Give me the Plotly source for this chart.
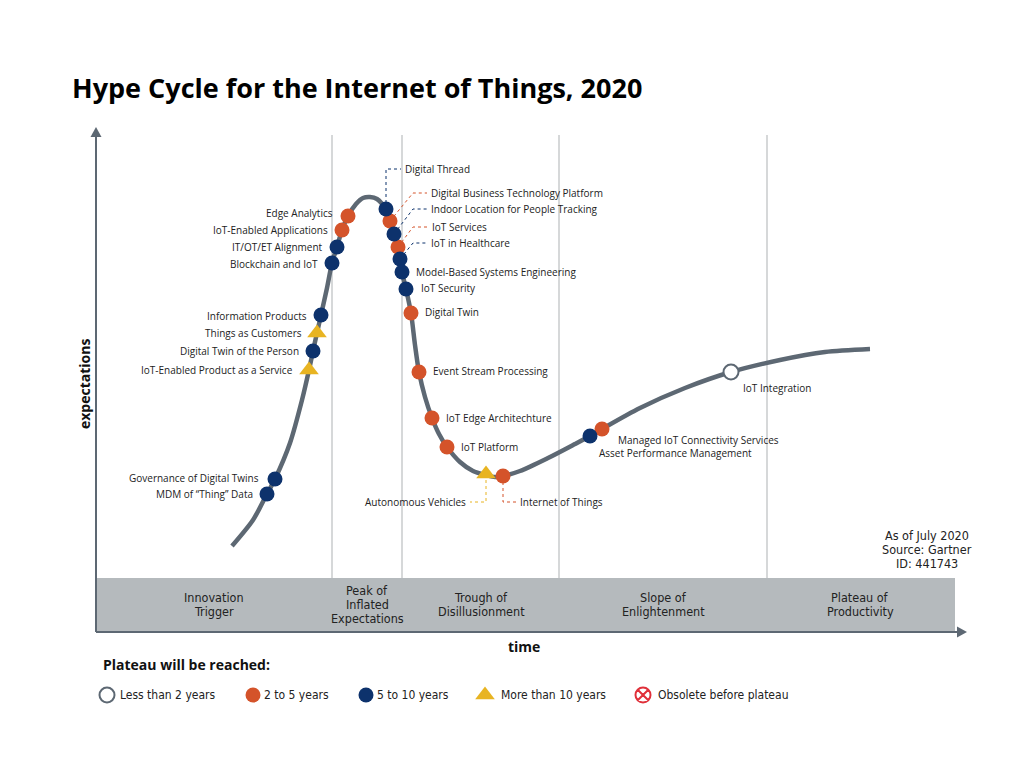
import plotly.graph_objects as go

# ---------------- data (time, expectations units) ----------------
curve_time = [136, 157, 171, 179, 194, 206, 213, 217, 221, 225, 231, 236, 241, 246, 252,
              260, 267, 274, 281, 290, 294, 298, 302, 304, 306, 310, 315, 319, 323, 329,
              336, 343, 351, 364, 377, 390, 399, 407, 424, 452, 479, 494, 506, 544, 589,
              635, 684, 729, 774]
curve_expect = [86, 112, 138, 153, 189, 232, 262, 281, 299, 317, 344, 369, 385, 402, 416,
                428, 434, 435, 433, 423, 411, 398, 385, 373, 360, 343, 319, 287, 260, 235,
                214, 198, 185, 170, 161, 157, 155, 156, 161, 174, 188, 196, 203, 224, 244,
                260, 272, 280, 283]

tech_names = ['MDM of “Thing” Data', 'Governance of Digital Twins',
              'IoT-Enabled Product as a Service', 'Digital Twin of the Person',
              'Things as Customers', 'Information Products', 'Blockchain and IoT',
              'IT/OT/ET Alignment', 'IoT-Enabled Applications', 'Edge Analytics',
              'Digital Thread', 'Digital Business Technology Platform',
              'Indoor Location for People Tracking', 'IoT Services', 'IoT in Healthcare',
              'Model-Based Systems Engineering', 'IoT Security', 'Digital Twin',
              'Event Stream Processing', 'IoT Edge Architechture', 'IoT Platform',
              'Autonomous Vehicles', 'Internet of Things',
              'Managed IoT Connectivity Services', 'Asset Performance Management',
              'IoT Integration']
tech_time = [171, 179, 213, 217, 221, 225, 236, 241, 246, 252,
             290, 294, 298, 302, 304, 306, 310, 315, 323, 336, 351,
             390, 407, 494, 506, 635]
tech_expect = [138, 153, 262, 281, 299, 317, 369, 385, 402, 416,
               423, 411, 398, 385, 373, 360, 343, 319, 260, 214, 185,
               158, 156, 196, 203, 260]
tech_class = ['5to10', '5to10', 'gt10', '5to10', 'gt10', '5to10', '5to10', '5to10', '2to5', '2to5',
              '5to10', '2to5', '5to10', '2to5', '5to10', '5to10', '5to10', '2to5', '2to5', '2to5', '2to5',
              'gt10', '2to5', '5to10', '2to5', 'lt2']
label_time = [159, 165, 199, 205, 208, 213, 224, 229, 234, 239,
              307, 333, 333, 334, 333, 318, 323, 327, 335, 348, 363,
              372, 422, 520, 501, 645]
label_expect = [138, 154, 262, 281, 299, 316, 368, 385, 402, 419,
                463, 439, 423, 405, 389, 360, 344, 320, 261, 214, 185,
                130, 130, 192, 179, 244]
label_side = ['l', 'l', 'l', 'l', 'l', 'l', 'l', 'l', 'l', 'l',
              'r', 'r', 'r', 'r', 'r', 'r', 'r', 'r', 'r', 'r', 'r',
              'l', 'r', 'r', 'r', 'r']
leader_elbow = [None] * 10 + [290, 317, 317, 317, 317] + [None] * 6 + [390, 407, None, None, None]

phase_names = [['Innovation', 'Trigger'], ['Peak of', 'Inflated', 'Expectations'],
               ['Trough of', 'Disillusionment'], ['Slope of', 'Enlightenment'],
               ['Plateau of', 'Productivity']]
phase_centers = [118, 271, 385, 567, 764]
phase_bounds = [236, 306, 463, 671]

source_lines = ['As of July 2020', 'Source: Gartner', 'ID: 441743']

legend_labels = ['Less than 2 years', '2 to 5 years', '5 to 10 years',
                 'More than 10 years', 'Obsolete before plateau']
legend_keys = ['lt2', '2to5', '5to10', 'gt10', 'obs']
legend_marker_x = [11, 157, 270, 389, 547]
legend_text_x = [22, 166, 279, 403, 560]

# ---------------- styles ----------------
NAVY = '#0d326c'
ORANGE = '#d4532a'
YELLOW = '#e8b422'
CURVE = '#5d6873'
BAND = '#b5babd'
GRID = '#c9cbcd'
TXT = '#222222'
LABEL_FONT = 'Open Sans, Noto Sans, sans-serif'
NARROW_FONT = 'Liberation Sans Narrow, DejaVu Sans Condensed, Open Sans, sans-serif'
LINE_STEP = 14

style = {
    'lt2': dict(symbol='circle', size=15, color='white', line=dict(color=CURVE, width=2)),
    '2to5': dict(symbol='circle', size=15, color=ORANGE, line=dict(width=0)),
    '5to10': dict(symbol='circle', size=15, color=NAVY, line=dict(width=0)),
    'gt10': dict(symbol='triangle-up', size=17, color=YELLOW, line=dict(width=0)),
    'obs': dict(symbol='circle-x-open', size=15, color='#e0303a', line=dict(color='#e0303a', width=2)),
}
leader_color = {'lt2': CURVE, '2to5': ORANGE, '5to10': NAVY, 'gt10': YELLOW}

fig = go.Figure()

# phase boundaries
for b in phase_bounds:
    fig.add_shape(type='line', x0=b, x1=b, y0=54, y1=497, line=dict(color=GRID, width=1.5), layer='below')

# phase band
fig.add_shape(type='rect', x0=0, x1=859, y0=1, y1=54, fillcolor=BAND, line=dict(width=0), layer='below')

# axes with arrows
fig.add_shape(type='line', x0=0, x1=0, y0=0, y1=497, line=dict(color=CURVE, width=2))
fig.add_shape(type='path', path='M -5.5 495 L 0 505 L 5.5 495 Z', fillcolor=CURVE, line=dict(width=0))
fig.add_shape(type='line', x0=0, x1=862, y0=0, y1=0, line=dict(color=CURVE, width=2))
fig.add_shape(type='path', path='M 861 5.5 L 871 0 L 861 -5.5 Z', fillcolor=CURVE, line=dict(width=0))

# leaders
for cls in ['2to5', '5to10', 'gt10']:
    lx, ly = [], []
    for i in range(len(tech_names)):
        if leader_elbow[i] is None or tech_class[i] != cls:
            continue
        end = label_time[i] - 2 if label_side[i] == 'r' else label_time[i] + 2
        lx += [tech_time[i], leader_elbow[i], end, None]
        ly += [tech_expect[i], label_expect[i], label_expect[i], None]
    fig.add_trace(go.Scatter(x=lx, y=ly, mode='lines', hoverinfo='skip', showlegend=False,
                             line=dict(color=leader_color[cls], width=1, dash='dot')))

# hype curve
fig.add_trace(go.Scatter(x=curve_time, y=curve_expect, mode='lines', hoverinfo='skip', showlegend=False,
                         line=dict(color=CURVE, width=4.5, shape='spline', smoothing=0.8)))

# technology markers
for cls in ['lt2', '2to5', '5to10', 'gt10']:
    idx = [i for i in range(len(tech_names)) if tech_class[i] == cls]
    fig.add_trace(go.Scatter(x=[tech_time[i] for i in idx], y=[tech_expect[i] for i in idx],
                             text=[tech_names[i] for i in idx], mode='markers', hoverinfo='text',
                             showlegend=False, marker=style[cls]))

# technology labels
for i, name in enumerate(tech_names):
    fig.add_annotation(x=label_time[i], y=label_expect[i], text=name, showarrow=False,
                       xanchor='right' if label_side[i] == 'l' else 'left', yanchor='middle',
                       font=dict(family=LABEL_FONT, size=10, color=TXT))


def add_lines(lines, cx, cy, size):
    n = len(lines)
    for k, line in enumerate(lines):
        y = cy + (n - 1) / 2 * LINE_STEP - k * LINE_STEP
        fig.add_annotation(x=cx, y=y, text=line, showarrow=False, xanchor='center', yanchor='middle',
                           font=dict(family=NARROW_FONT, size=size, color=TXT))


# phase labels
for lines, cx in zip(phase_names, phase_centers):
    add_lines(lines, cx, 28, 12.5)

# source note
add_lines(source_lines, 831, 83, 12.5)

# title & axis titles
fig.add_annotation(x=-26, y=545, text='<b>Hype Cycle for the Internet of Things, 2020</b>', showarrow=False,
                   xanchor='left', yanchor='middle', font=dict(family=LABEL_FONT, size=27, color='#000'))
fig.add_annotation(x=-12, y=248, text='<b>expectations</b>', textangle=-90, showarrow=False,
                   xanchor='center', yanchor='middle', font=dict(family=LABEL_FONT, size=14, color='#111'))
fig.add_annotation(x=428, y=-14, text='<b>time</b>', showarrow=False,
                   xanchor='center', yanchor='middle', font=dict(family=LABEL_FONT, size=14, color='#111'))

# custom legend
fig.add_annotation(x=5, y=-32, text='<b>Plateau will be reached:</b>', showarrow=False,
                   xanchor='left', yanchor='middle', font=dict(family=LABEL_FONT, size=14, color='#111'))
for key, mx, tx, lab in zip(legend_keys, legend_marker_x, legend_text_x, legend_labels):
    fig.add_trace(go.Scatter(x=[mx], y=[-63], mode='markers', hoverinfo='skip', showlegend=False,
                             marker=style[key], cliponaxis=False))
    fig.add_annotation(x=tx, y=-63, text=lab, showarrow=False, xanchor='left', yanchor='middle',
                       font=dict(family=NARROW_FONT, size=12, color=TXT))

# page has an 8px body margin, so the figure is 1008x752 and the ranges are offset accordingly
fig.update_layout(
    width=1008, height=752, autosize=False,
    margin=dict(l=0, r=0, t=0, b=0, pad=0),
    paper_bgcolor='white', plot_bgcolor='white',
    xaxis=dict(range=[-88, 920], visible=False, fixedrange=True),
    yaxis=dict(range=[-128, 624], visible=False, fixedrange=True),
    showlegend=False,
)

fig.write_html('out.html', config={'displayModeBar': False})
